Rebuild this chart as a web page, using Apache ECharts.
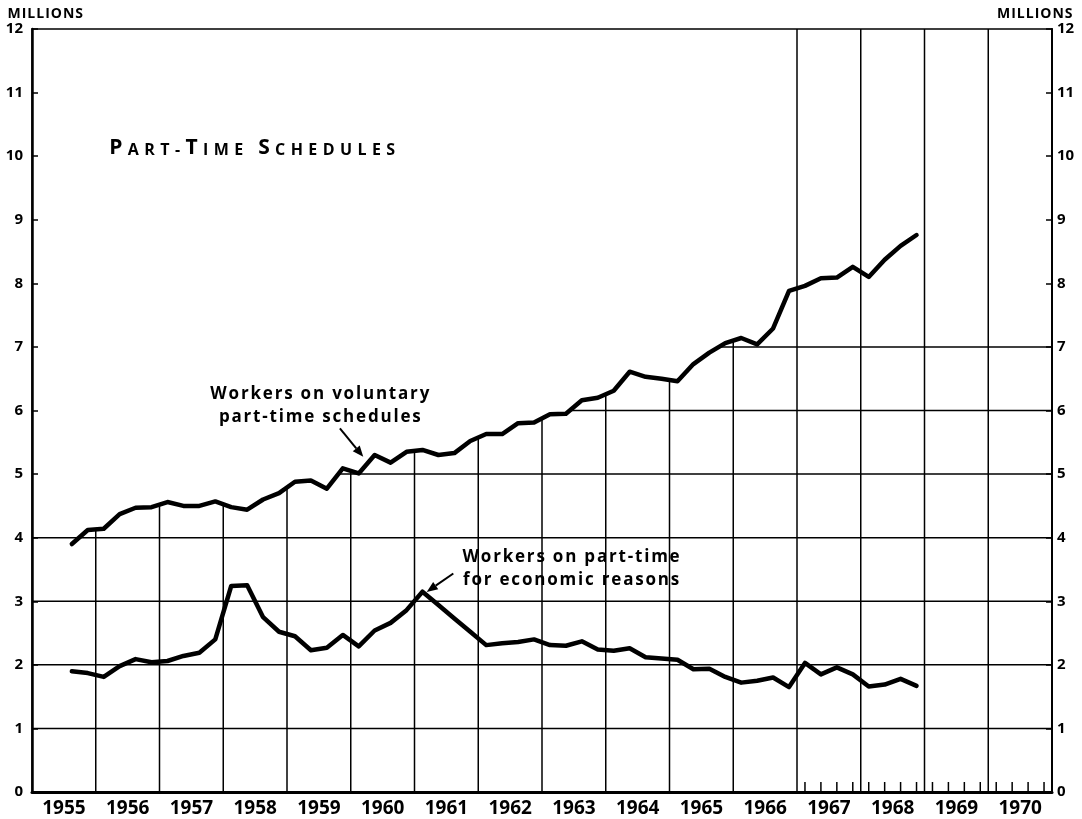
<!DOCTYPE html>
<html><head><meta charset="utf-8">
<script src="https://cdn.jsdelivr.net/npm/echarts@6/dist/echarts.min.js"></script>
<style>html,body{margin:0;padding:0;background:#fff}#c{width:1082px;height:819px}</style>
</head><body><div id="c"></div>
<script>
// ---------- data ----------
const yearLabels = ['1955','1956','1957','1958','1959','1960','1961','1962','1963','1964','1965','1966','1967','1968','1969','1970'];
const yTickLabels = ['0','1','2','3','4','5','6','7','8','9','10','11','12'];
const firstYear = 1955, firstQuarter = 3;
// Workers on voluntary part-time schedules (millions), quarterly 1955 Q3 - 1968 Q4
const voluntary = [3.90,4.12,4.14,4.37,4.47,4.48,4.56,4.50,4.50,4.57,4.48,4.44,4.60,4.70,4.88,4.90,4.77,5.09,5.01,5.30,5.18,5.35,5.38,5.30,5.33,5.52,5.63,5.63,5.80,5.81,5.94,5.95,6.16,6.20,6.31,6.61,6.53,6.50,6.46,6.73,6.91,7.06,7.14,7.04,7.29,7.88,7.96,8.08,8.09,8.26,8.10,8.37,8.59,8.76];
// Workers on part-time for economic reasons (millions)
const economic = [1.90,1.87,1.81,1.98,2.09,2.04,2.06,2.14,2.19,2.40,3.24,3.25,2.75,2.52,2.45,2.23,2.27,2.47,2.29,2.54,2.66,2.86,3.15,2.94,2.73,2.52,2.31,2.34,2.36,2.40,2.31,2.30,2.37,2.24,2.22,2.26,2.12,2.10,2.08,1.93,1.94,1.81,1.72,1.75,1.80,1.65,2.03,1.85,1.96,1.85,1.66,1.69,1.78,1.67];
const fullGridFromYear = 1967;       // vertical rules run full height from here on
const fullHorizLevels = [1,2,3,4];    // horizontal rules across the whole plot
const partialHorizLevels = [5,6,7];   // horizontal rules start where the upper curve crosses them
const annotations = [
  {lines:['Workers on voluntary','part-time schedules'], x:1959.515, y:[6.263,5.896]},
  {lines:['Workers on part-time','for economic reasons'], x:1963.457, y:[3.693,3.332]}
];
const arrows = [[1959.83,5.718,1960.196,5.271],[1961.609,3.437,1961.191,3.147]];
const titleText = 'PART-TIME SCHEDULES';
const titleAnchor = [1956.17, 10.13];

// ---------- derived ----------
const quarterLabels = [];
(function(){let y=firstYear,q=firstQuarter;for(let i=0;i<voluntary.length;i++){quarterLabels.push(y+'-Q'+q);q++;if(q>4){q=1;y++;}}})();
const quarterX = l => { const p=l.split('-Q'); return +p[0] + (+p[1]-0.5)/4; };
const vx = quarterLabels.map(quarterX);
const X0 = +yearLabels[0], X1 = +yearLabels[yearLabels.length-1] + 1, YMAX = 12;
function volAt(x){
  for(let i=0;i<vx.length-1;i++){ if(x>=vx[i] && x<=vx[i+1]) return voluntary[i]+(voluntary[i+1]-voluntary[i])*(x-vx[i])/(vx[i+1]-vx[i]); }
  return YMAX;
}
const gridSegs = [];
fullHorizLevels.forEach(l=>gridSegs.push([X0,l,X1,l]));
partialHorizLevels.forEach(l=>{
  let xs = X0;
  for(let i=0;i<voluntary.length-1;i++){ if(voluntary[i]<l && voluntary[i+1]>=l) xs = vx[i]+(l-voluntary[i])/(voluntary[i+1]-voluntary[i])*(vx[i+1]-vx[i]); }
  gridSegs.push([xs,l,X1,l]);
});
for(let Y=X0+1; Y<X1; Y++){ gridSegs.push([Y,0,Y, Y>=fullGridFromYear ? YMAX : volAt(Y)]); }
const minorTicks = [];
for(let Y=fullGridFromYear; Y<X1; Y++){ for(let q=1;q<=4;q++) minorTicks.push([Y+(q-0.5)/4, 0]); }

const FONT = '"Open Sans", "DejaVu Sans", sans-serif';
function richSpaced(str, styleOf){ return str.split('').map((c,i)=>'{'+styleOf(c,i)+'|'+c+'}').join(''); }

const chart = echarts.init(document.getElementById('c'), null, {renderer:'canvas'});
const option = {
  animation:false,
  backgroundColor:'#fff',
  textStyle:{fontFamily:FONT},
  grid:{left:32, top:29, width:1020, height:763, show:true, borderColor:'#000', borderWidth:1.5, backgroundColor:'transparent'},
  xAxis:[
    {type:'value', min:X0, max:X1, interval:1, position:'bottom',
     axisLine:{show:true, onZero:false, lineStyle:{color:'#000', width:3}}, axisTick:{show:false}, axisLabel:{show:false}, splitLine:{show:false}},
    {type:'category', data:yearLabels, boundaryGap:true, position:'bottom',
     axisLine:{show:false}, axisTick:{show:false}, splitLine:{show:false},
     axisLabel:{color:'#000', fontFamily:FONT, fontWeight:'bold', fontSize:19, margin:7}}
  ],
  yAxis:[0,1].map(k=>({
    type:'value', min:0, max:YMAX, interval:1, position:k?'right':'left',
    axisLine:{show:true, lineStyle:{color:'#000', width:k?2:2.5}},
    axisTick:{show:true, inside:true, length:6, lineStyle:{color:'#000', width:1.5}},
    splitLine:{show:false},
    axisLabel:{color:'#000', fontFamily:FONT, fontWeight:'bold', fontSize:15, margin:k?5:9,
      formatter:(v)=>yTickLabels[Math.round(v)]}
  })),
  series:[
    {type:'custom', name:'grid', xAxisIndex:0, yAxisIndex:0, z:1, silent:true, clip:false,
     dimensions:['x1','y1','x2','y2'], encode:{x:[0,2], y:[1,3]}, data:gridSegs,
     renderItem:(p,api)=>{const a=api.coord([api.value(0),api.value(1)]), b=api.coord([api.value(2),api.value(3)]);
       return {type:'line', shape:{x1:a[0],y1:a[1],x2:b[0],y2:b[1]}, style:{stroke:'#000', lineWidth:1.5}};}},
    {type:'custom', name:'ticks', xAxisIndex:0, yAxisIndex:0, z:1, silent:true, clip:false,
     encode:{x:0, y:1}, data:minorTicks,
     renderItem:(p,api)=>{const a=api.coord([api.value(0),api.value(1)]);
       return {type:'line', shape:{x1:a[0],y1:a[1],x2:a[0],y2:a[1]-10}, style:{stroke:'#000', lineWidth:1.5}};}},
    {type:'line', name:'Voluntary', xAxisIndex:0, yAxisIndex:0, z:5, symbol:'none', silent:true,
     data:quarterLabels.map((l,i)=>[quarterX(l), voluntary[i]]),
     lineStyle:{color:'#000', width:4.5, join:'round', cap:'round'}},
    {type:'line', name:'Economic', xAxisIndex:0, yAxisIndex:0, z:5, symbol:'none', silent:true,
     data:quarterLabels.map((l,i)=>[quarterX(l), economic[i]]),
     lineStyle:{color:'#000', width:4.5, join:'round', cap:'round'}}
  ]
};
chart.setOption(option);

// ---------- annotations (anchored in data coordinates) ----------
const px = (x,y)=>chart.convertToPixel({xAxisIndex:0, yAxisIndex:0}, [x,y]);
const g = [];
const annRich = {s:{font:'bold 17px '+FONT, fill:'#000', padding:[0,0.9,0,0.9]}};
annotations.forEach(a=>{
  a.lines.forEach((t,j)=>{
    const p = px(a.x, a.y[j]);
    g.push({type:'text', x:p[0], y:p[1], silent:true, style:{text:richSpaced(t,()=>'s'), rich:annRich, align:'center', verticalAlign:'middle'}});
  });
});
arrows.forEach(ar=>{
  const s = px(ar[0],ar[1]), e = px(ar[2],ar[3]);
  const dx=e[0]-s[0], dy=e[1]-s[1], L=Math.hypot(dx,dy), ux=dx/L, uy=dy/L;
  const hl=11, hw=4.5, bx=e[0]-ux*hl, by=e[1]-uy*hl;
  g.push({type:'line', silent:true, shape:{x1:s[0],y1:s[1],x2:bx,y2:by}, style:{stroke:'#000', lineWidth:2}});
  g.push({type:'polygon', silent:true, shape:{points:[[e[0],e[1]],[bx-uy*hw,by+ux*hw],[bx+uy*hw,by-ux*hw]]}, style:{fill:'#000'}});
});
// title in small caps: first letter of each word larger
const tp = px(titleAnchor[0], titleAnchor[1]);
const bigIdx = new Set([0,5,10]);
g.push({type:'text', x:tp[0], y:tp[1], silent:true, style:{
  text:richSpaced(titleText,(c,i)=>bigIdx.has(i)?'a':'b'), align:'left', verticalAlign:'middle',
  rich:{a:{font:'bold 21px '+FONT, fill:'#000', padding:[0,2.7,0,2.7], verticalAlign:'bottom', lineHeight:21},
        b:{font:'bold 16px '+FONT, fill:'#000', padding:[0,2.7,0,2.7], verticalAlign:'bottom', lineHeight:21}}}});
const mRich = {m:{font:'bold 14px '+FONT, fill:'#000', padding:[0,0.5,0,0.5]}};
g.push({type:'text', x:7, y:14, silent:true, style:{text:richSpaced('MILLIONS',()=>'m'), rich:mRich, align:'left', verticalAlign:'middle'}});
g.push({type:'text', x:1073, y:14, silent:true, style:{text:richSpaced('MILLIONS',()=>'m'), rich:mRich, align:'right', verticalAlign:'middle'}});
chart.setOption({graphic:g});
</script>
</body></html>
